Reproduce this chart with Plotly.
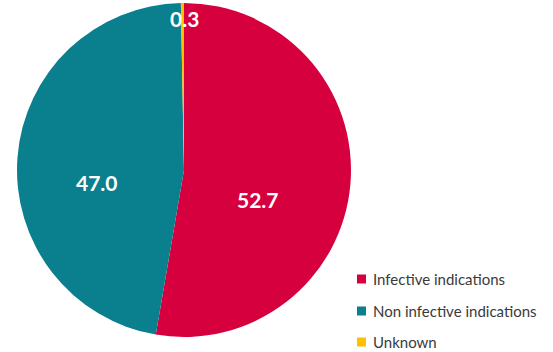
import plotly.graph_objects as go

categories = ["Infective indications", "Non infective indications", "Unknown"]
values = [52.7, 47.0, 0.3]
colors = ["#D7003E", "#0A7F8D", "#FFC000"]

W, H = 553, 352
# value label centres (pixels)
label_px = [(258, 199), (97, 182), (184, 19)]
# legend row centres (pixels)
legend_rows = [279, 311, 342]

fig = go.Figure()
fig.add_trace(go.Pie(
    labels=categories, values=values, sort=False, direction="clockwise",
    rotation=0, marker=dict(colors=colors, line=dict(width=0)),
    textinfo="none", hoverinfo="label+value", showlegend=False,
    domain=dict(x=[17/W, 351/W], y=[1-337/H, 1-3/H]),
))

for v, (px, py) in zip(values, label_px):
    fig.add_annotation(x=px/W, y=1-py/H, xref="paper", yref="paper",
                       text=f"<b>{v:.1f}</b>", showarrow=False,
                       xanchor="center", yanchor="middle",
                       font=dict(family="Lato", size=21, color="white"))

for cat, col, ry in zip(categories, colors, legend_rows):
    fig.add_shape(type="rect", xref="paper", yref="paper",
                  x0=357/W, x1=366/W, y0=1-(ry+4.5)/H, y1=1-(ry-4.5)/H,
                  fillcolor=col, line=dict(width=0))
    fig.add_annotation(x=371/W, y=1-ry/H, xref="paper", yref="paper",
                       text=cat, showarrow=False, xanchor="left", yanchor="middle",
                       font=dict(family="Lato", size=15, color="#3a3a3a"))

fig.update_layout(
    width=W, height=H, margin=dict(l=0, r=0, t=0, b=0),
    paper_bgcolor="white", plot_bgcolor="white",
    showlegend=False,
)

fig.write_html("out.html")
